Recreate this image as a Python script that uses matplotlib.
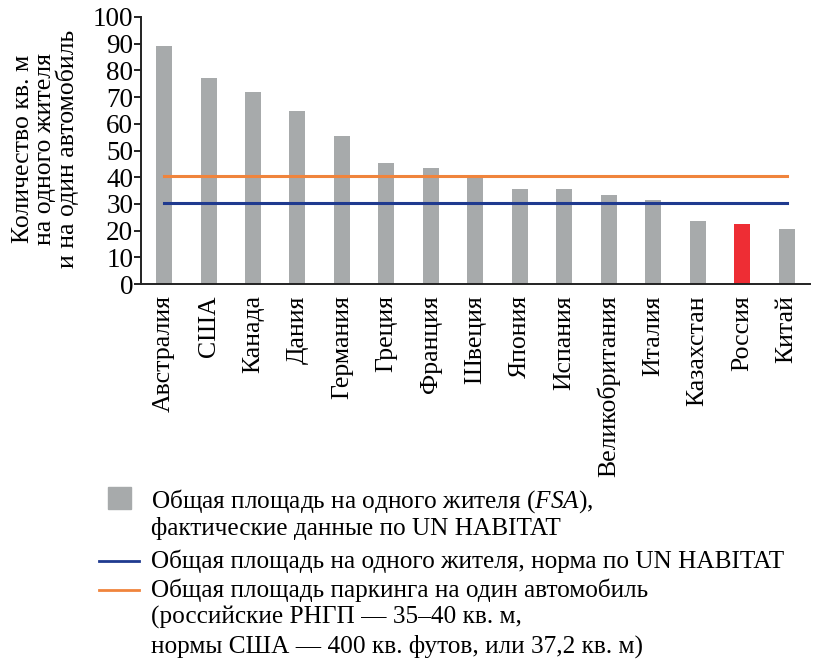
import numpy as np
import matplotlib.pyplot as plt
from matplotlib.lines import Line2D
from matplotlib.patches import Rectangle

plt.rcParams['font.family'] = ['Liberation Serif', 'DejaVu Serif']
plt.rcParams['mathtext.fontset'] = 'custom'
plt.rcParams['mathtext.rm'] = 'Liberation Serif'
plt.rcParams['mathtext.it'] = 'Liberation Serif:italic'

countries = ['Австралия', 'США', 'Канада', 'Дания', 'Германия', 'Греция', 'Франция',
             'Швеция', 'Япония', 'Испания', 'Великобритания', 'Италия', 'Казахстан',
             'Россия', 'Китай']
fsa = [89.0, 77.1, 71.8, 64.7, 55.4, 45.3, 43.4, 40.1, 35.5, 35.5, 33.3, 31.4, 23.6, 22.4, 20.6]
fsa_norm = 30.4      # UN HABITAT
parking_norm = 40.3  # площадь паркинга на один автомобиль
highlight = 'Россия'

GRAY = '#a7aaab'
RED = '#ee2d34'
BLUE = '#1f3a8f'
ORANGE = '#f0843c'
FS = 18.5

W, H = 813, 661
fig = plt.figure(figsize=(W / 100, H / 100), dpi=100)
ax = fig.add_axes([0.1734, 0.5703, 0.8226, 0.404])

x = np.arange(len(countries))
colors = [RED if c == highlight else GRAY for c in countries]
ax.bar(x, fsa, width=0.36, color=colors, zorder=1)
ax.plot([x[0], x[-1]], [parking_norm] * 2, color=ORANGE, lw=2.2, zorder=2)
ax.plot([x[0], x[-1]], [fsa_norm] * 2, color=BLUE, lw=2.2, zorder=2)

ax.set_xlim(-0.52, len(countries) - 0.48)
ax.set_ylim(0, 100)
ax.set_yticks(range(0, 101, 10))
ax.set_xticks(x)
ax.set_xticklabels(countries, rotation=90, fontsize=FS)
ax.tick_params(axis='x', length=0, pad=8)
ax.tick_params(axis='y', length=5, width=1.2, labelsize=19.5, pad=0.5)
for s in ['top', 'right']:
    ax.spines[s].set_visible(False)
for s in ['left', 'bottom']:
    ax.spines[s].set_linewidth(1.4)
    ax.spines[s].set_color('#222222')

fig.text(0.056, 0.775, 'Количество кв. м\nна одного жителя\nи на один автомобиль',
         rotation=90, ha='center', va='center', fontsize=FS, multialignment='center',
         linespacing=0.97)

# легенда под графиком
fig.patches.append(Rectangle((108 / W, 1 - 509 / H), 23 / W, 22 / H,
                             transform=fig.transFigure, color=GRAY))
fig.lines.append(Line2D([99 / W, 139 / W], [1 - 561 / H] * 2,
                        transform=fig.transFigure, color=BLUE, lw=2))
fig.lines.append(Line2D([99 / W, 139 / W], [1 - 590 / H] * 2,
                        transform=fig.transFigure, color=ORANGE, lw=2))

tx = 151 / W
legend_lines = [
    (501, 'Общая площадь на одного жителя ($FSA$),'),
    (528, 'фактические данные по UN HABITAT'),
    (561, 'Общая площадь на одного жителя, норма по UN HABITAT'),
    (590, 'Общая площадь паркинга на один автомобиль'),
    (617, '(российские РНГП — 35–40 кв. м,'),
    (646, 'нормы США — 400 кв. футов, или 37,2 кв. м)'),
]
for y, txt in legend_lines:
    fig.text(tx, 1 - y / H, txt, fontsize=18.2, va='center')

fig.savefig('out.png', dpi=100)
